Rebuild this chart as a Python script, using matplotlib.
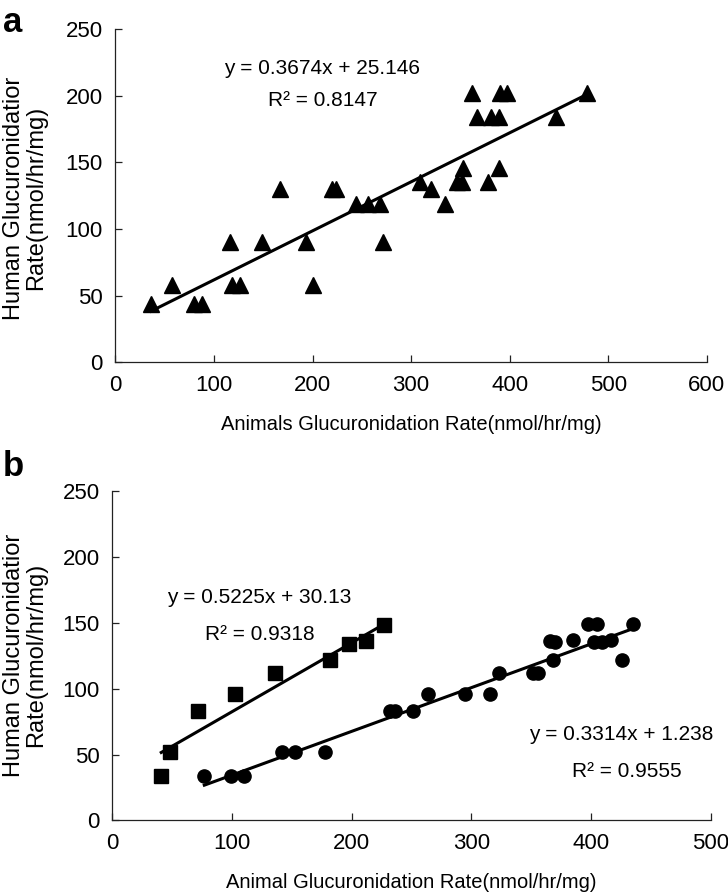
import numpy as np
import matplotlib.pyplot as plt

plt.rcParams['font.family'] = ['Liberation Sans', 'DejaVu Sans']

# panel a: animals vs human (triangles)
a_x = [36, 57, 80, 88, 116, 118, 126, 149, 167, 193, 200, 220, 224, 244, 256,
       268, 272, 309, 320, 334, 347, 352, 353, 378, 389, 362, 390, 397, 478,
       367, 381, 389, 447]
a_y = [44, 58, 44, 44, 90, 58, 58, 90, 130, 90, 58, 130, 130, 119, 119,
       119, 90, 135, 130, 119, 135, 135, 146, 135, 146, 202, 202, 202, 202,
       184, 184, 184, 184]
a_fit = (0.3674, 25.146)

# panel b: squares
b1_x = [41, 48, 72, 103, 136, 182, 198, 212, 227]
b1_y = [34, 52, 83, 96, 112, 122, 134, 136, 148]
b1_fit = (0.5225, 30.13)

# panel b: circles
b2_x = [77, 99, 110, 142, 153, 178, 232, 236, 251, 264, 295, 316, 323, 352,
        356, 368, 366, 370, 385, 398, 405, 403, 409, 417, 426, 435]
b2_y = [34, 34, 34, 52, 52, 52, 83, 83, 83, 96, 96, 96, 112, 112,
        112, 122, 136, 135, 137, 149, 149, 135, 135, 137, 122, 149]
b2_fit = (0.3314, 1.238)

ylab = 'Human Glucuronidatior\nRate(nmol/hr/mg)'

fig = plt.figure(figsize=(7.28, 8.96), dpi=100)
ax1 = fig.add_axes([0.1585, 0.5955, 0.8123, 0.3722])
ax2 = fig.add_axes([0.1541, 0.0843, 0.8219, 0.3680])


def style(ax, xmax, xlabel):
    ax.set_xlim(0, xmax)
    ax.set_ylim(0, 250)
    ax.set_xticks(np.arange(0, xmax + 1, 100))
    ax.set_yticks(np.arange(0, 251, 50))
    for s in ['top', 'right']:
        ax.spines[s].set_visible(False)
    for s in ['left', 'bottom']:
        ax.spines[s].set_linewidth(0.9)
        ax.spines[s].set_color('#222222')
    ax.tick_params(direction='in', length=5, width=0.9, labelsize=16, pad=9,
                   color='#222222')
    ax.set_xlabel(xlabel, fontsize=14.5, labelpad=14)


def fitline(ax, x, fit):
    xs = np.array([min(x), max(x)])
    ax.plot(xs, fit[0] * xs + fit[1], color='black', lw=2.2, zorder=2)


# panel a
ax1.plot(a_x, a_y, '^', color='black', ms=11, zorder=3)
fitline(ax1, a_x, a_fit)
style(ax1, 600, 'Animals Glucuronidation Rate(nmol/hr/mg)')
ax1.text(210, 220, 'y = 0.3674x + 25.146', fontsize=15, ha='center', va='center')
ax1.text(210, 196, 'R² = 0.8147', fontsize=15, ha='center', va='center')

# panel b
ax2.plot(b1_x, b1_y, 's', color='black', ms=10, zorder=3)
ax2.plot(b2_x, b2_y, 'o', color='black', ms=9.5, zorder=3)
fitline(ax2, b1_x, b1_fit)
fitline(ax2, b2_x, b2_fit)
style(ax2, 500, 'Animal Glucuronidation Rate(nmol/hr/mg)')
ax2.text(123, 169, 'y = 0.5225x + 30.13', fontsize=15, ha='center', va='center')
ax2.text(123, 141, 'R² = 0.9318', fontsize=15, ha='center', va='center')
ax2.text(425, 65, 'y = 0.3314x + 1.238', fontsize=15, ha='center', va='center')
ax2.text(430, 37, 'R² = 0.9555', fontsize=15, ha='center', va='center')

# y labels (two lines, rotated)
fig.text(25 / 728, 1 - 198 / 896, ylab, rotation=90, ha='center', va='center',
         multialignment='center', fontsize=17, linespacing=1.0)
fig.text(25 / 728, 1 - 655 / 896, ylab, rotation=90, ha='center', va='center',
         multialignment='center', fontsize=17, linespacing=1.0)

# panel letters
fig.text(0.004, 0.993, 'a', fontsize=25, fontweight='bold', ha='left', va='top')
fig.text(0.004, 0.498, 'b', fontsize=25, fontweight='bold', ha='left', va='top')

fig.savefig('out.png', dpi=100)
